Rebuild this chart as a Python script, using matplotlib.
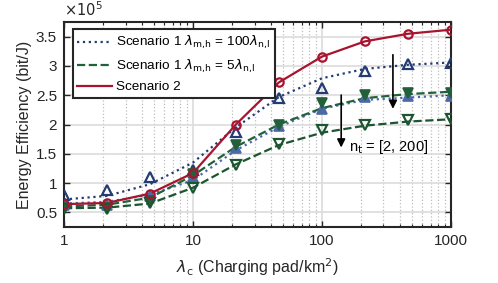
import numpy as np
import matplotlib
matplotlib.use("Agg")
import matplotlib.pyplot as plt
from matplotlib.ticker import LogLocator, NullFormatter

plt.rcParams['font.family'] = ['Liberation Sans', 'DejaVu Sans']
plt.rcParams['mathtext.fontset'] = 'dejavusans'

lam_c = [1, 2.15, 4.64, 10, 21.5, 46.4, 100, 215, 464, 1000]

# Scenario 1, lambda_mh = 100 lambda_nl, n_t = 2 (line, markers)
s1a_n2_line = [0.72, 0.78, 0.98, 1.35, 1.95, 2.47, 2.79, 2.95, 3.02, 3.06]
s1a_n2_mark = [0.80, 0.89, 1.10, 1.22, 1.87, 2.46, 2.63, 2.91, 3.03, 3.05]
# Scenario 1, lambda_mh = 100 lambda_nl, n_t = 200
s1a_n200_line = [0.65, 0.68, 0.80, 1.05, 1.56, 1.96, 2.27, 2.42, 2.46, 2.50]
s1a_n200_mark = [0.62, 0.62, 0.78, 1.10, 1.60, 1.97, 2.26, 2.47, 2.48, 2.48]
# Scenario 1, lambda_mh = 5 lambda_nl, n_t = 2
s1b_n2_line = [0.60, 0.63, 0.75, 1.13, 1.62, 2.00, 2.28, 2.45, 2.52, 2.56]
s1b_n2_mark = [0.58, 0.58, 0.70, 1.15, 1.65, 1.99, 2.36, 2.51, 2.53, 2.54]
# Scenario 1, lambda_mh = 5 lambda_nl, n_t = 200
s1b_n200_line = [0.57, 0.58, 0.65, 0.92, 1.32, 1.65, 1.86, 1.98, 2.05, 2.09]
s1b_n200_mark = [0.55, 0.55, 0.66, 0.91, 1.30, 1.66, 1.90, 1.99, 2.07, 2.09]
# Scenario 2
s2_line = [0.64, 0.66, 0.82, 1.17, 2.00, 2.72, 3.16, 3.42, 3.55, 3.62]
s2_mark = [0.64, 0.66, 0.82, 1.17, 2.00, 2.72, 3.16, 3.42, 3.55, 3.62]

labels = [r'Scenario 1 $\lambda_{\mathrm{m,\!h}}$ = 100$\lambda_{\mathrm{n,\!l}}$',
          r'Scenario 1 $\lambda_{\mathrm{m,\!h}}$ = 5$\lambda_{\mathrm{n,\!l}}$',
          'Scenario 2']

navy = '#233c74'
lblue = '#4c69a6'
green = '#22603a'
dgreen = '#1d5533'
red = '#a8142f'

fig = plt.figure(figsize=(4.98, 2.83), dpi=100)
ax = fig.add_axes([0.1285, 0.198, 0.777, 0.724])

lw = 1.6
h1, = ax.plot(lam_c, s1a_n2_line, ':', color=navy, lw=lw, zorder=3)
ax.plot(lam_c, s1a_n200_line, ':', color=lblue, lw=lw, zorder=3)
h2, = ax.plot(lam_c, s1b_n2_line, '--', color=green, lw=lw, zorder=3)
ax.plot(lam_c, s1b_n200_line, '--', color=dgreen, lw=lw, zorder=3)
h3, = ax.plot(lam_c, s2_line, '-', color=red, lw=lw, zorder=3)

ms = 6.5
ax.plot(lam_c, s1a_n2_mark, '^', ls='none', mfc='none', mec=navy, mew=1.6, ms=ms, zorder=4)
ax.plot(lam_c, s1a_n200_mark, '^', ls='none', mfc=lblue, mec=lblue, mew=1.2, ms=ms, zorder=4)
ax.plot(lam_c, s1b_n2_mark, 'v', ls='none', mfc=green, mec=green, mew=1.2, ms=ms, zorder=4)
ax.plot(lam_c, s1b_n200_mark, 'v', ls='none', mfc='none', mec=dgreen, mew=1.6, ms=ms, zorder=4)
ax.plot(lam_c, s2_mark, 'o', ls='none', mfc='none', mec=red, mew=1.6, ms=6, zorder=5)

ax.set_xscale('log')
ax.set_xlim(1, 1000)
ax.set_ylim(0.25, 3.75)
ax.set_yticks([0.5, 1, 1.5, 2, 2.5, 3, 3.5])
ax.set_yticklabels(['0.5', '1', '1.5', '2', '2.5', '3', '3.5'])
ax.set_xticks([1, 10, 100, 1000])
ax.set_xticklabels(['1', '10', '100', '1000'])
ax.xaxis.set_minor_locator(LogLocator(base=10, subs=np.arange(2, 10), numticks=20))
ax.xaxis.set_minor_formatter(NullFormatter())

ax.grid(True, which='major', color='#dcdcdc', lw=1.2, zorder=0)
ax.grid(True, which='minor', axis='x', color='#bdbdbd', ls=':', lw=0.9, zorder=0)
ax.set_axisbelow(True)

ax.tick_params(which='both', direction='in', top=True, right=True, labelsize=11, colors='#262626')
ax.tick_params(which='major', length=4, width=1, pad=5)
ax.tick_params(which='minor', length=2.5, width=0.8)
for sp in ax.spines.values():
    sp.set_linewidth(1.5)
    sp.set_color('#262626')

ax.set_ylabel('Energy Efficiency (bit/J)', fontsize=11.5, color='#262626', labelpad=3)
ax.set_xlabel(r'$\lambda_\mathrm{c}$ (Charging pad/km$^2$)', fontsize=11.5, color='#262626', labelpad=6)
ax.text(0.0, 1.015, r'$\times10^5$', transform=ax.transAxes, fontsize=10.5, color='#262626', ha='left', va='bottom')

leg = ax.legend([h1, h2, h3], labels, loc='upper left', bbox_to_anchor=(0.022, 0.965),
                fontsize=9.7, frameon=True, fancybox=False, framealpha=1,
                edgecolor='#262626', handlelength=2.6, handletextpad=0.3,
                borderpad=0.35, labelspacing=0.45, borderaxespad=0.0)
leg.get_frame().set_linewidth(1.5)

# arrows
ax.annotate('', xy=(141, 1.56), xytext=(141, 2.55),
            arrowprops=dict(arrowstyle='-|>', color='black', lw=1.2, mutation_scale=12), zorder=6)
ax.annotate('', xy=(355, 2.22), xytext=(355, 3.24),
            arrowprops=dict(arrowstyle='-|>', color='black', lw=1.2, mutation_scale=12), zorder=6)
ax.text(163, 1.62, r'n$_\mathrm{t}$ = [2, 200]', fontsize=10.5, va='center', ha='left', zorder=6)

fig.savefig('out.png', dpi=100)
